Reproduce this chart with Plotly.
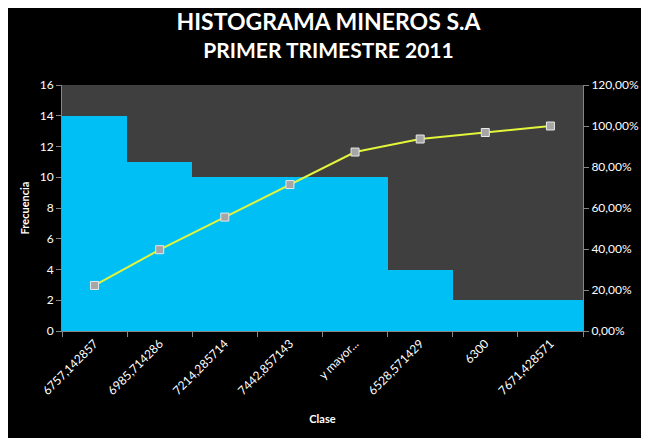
import plotly.graph_objects as go

# datos
clases = ["6757,142857", "6985,714286", "7214,285714", "7442,857143",
          "y mayor...", "6528,571429", "6300", "7671,428571"]
frecuencia = [14, 11, 10, 10, 10, 4, 2, 2]
acumulado = [22.22, 39.68, 55.56, 71.43, 87.30, 93.65, 96.83, 100.00]

fuente = "Lato"
fig = go.Figure()

fig.add_trace(go.Bar(x=clases, y=frecuencia, name="Frecuencia",
                     marker=dict(color="#00BFF5", line=dict(width=0)),
                     width=1.0))

fig.add_trace(go.Scatter(x=clases, y=acumulado, name="% acumulado", yaxis="y2",
                         mode="lines+markers",
                         line=dict(color="#E3F53A", width=2),
                         marker=dict(symbol="square", size=8, color="#A6A6A6",
                                     line=dict(color="#E8E8E8", width=1))))

# la pagina tiene 8px de margen en el body, se compensa aqui
fig.update_layout(
    width=641, height=430,
    margin=dict(l=54, r=66, t=77, b=107, autoexpand=False),
    paper_bgcolor="black", plot_bgcolor="#3F3F3F",
    separators=",.",
    showlegend=False, bargap=0,
    font=dict(family=fuente, color="white", size=11),
    title=dict(text="<b><span style='font-size:23px'>HISTOGRAMA MINEROS S.A</span><br>PRIMER TRIMESTRE 2011</b>",
               x=0.5, xanchor="center", y=0.948, yanchor="middle",
               font=dict(family=fuente, size=21, color="white")),
    xaxis=dict(title=dict(text="<b>Clase</b>", font=dict(size=11), standoff=18),
               automargin=False,
               tickangle=-45, showgrid=False, showline=True, linecolor="#868686",
               ticks="outside", tickson="boundaries", tickcolor="#868686", ticklen=5,
               tickfont=dict(size=12)),
    yaxis=dict(title=dict(text="<b>Frecuencia</b>", font=dict(size=11), standoff=7),
               automargin=False,
               range=[0, 16], dtick=2, showgrid=False, showline=True, linecolor="#868686",
               ticks="outside", tickcolor="#868686", ticklen=5, zeroline=False,
               tickfont=dict(size=12)),
    yaxis2=dict(overlaying="y", side="right", range=[0, 120], dtick=20,
                automargin=False,
                tickformat=".2f", ticksuffix="%", showgrid=False, showline=True,
                linecolor="#868686", ticks="outside", tickcolor="#868686", ticklen=5,
                zeroline=False, tickfont=dict(size=12)),
)

fig.write_html("out.html")
